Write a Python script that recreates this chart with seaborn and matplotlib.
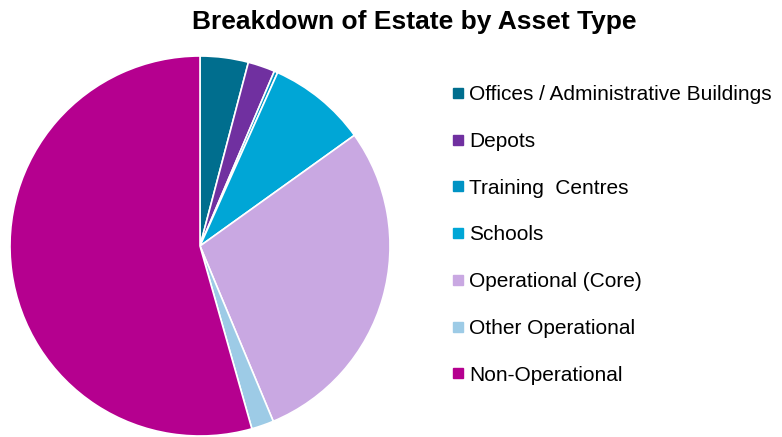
import matplotlib
matplotlib.use("Agg")
import matplotlib.pyplot as plt
from matplotlib.lines import Line2D
import seaborn as sns

# data (percent of estate)
categories = ['Offices / Administrative Buildings', 'Depots', 'Training  Centres', 'Schools',
              'Operational (Core)', 'Other Operational', 'Non-Operational']
shares = [4.1, 2.3, 0.3, 8.4, 28.6, 1.9, 54.4]
colours = ['#006E8E', '#7030A0', '#0093C4', '#00A6D6', '#C9A8E2', '#9DCBE6', '#B5008F']

sns.set_theme(style='white')
plt.rcParams['font.family'] = ['Liberation Sans', 'DejaVu Sans']
pal = sns.color_palette(colours)

fig = plt.figure(figsize=(7.82, 4.37), dpi=100)
ax = fig.add_axes([10 / 782, 1 / 437, 380 / 782, 380 / 437])
ax.pie(shares, colors=pal, startangle=90, counterclock=False, radius=1,
       wedgeprops=dict(edgecolor='white', linewidth=1.2))
ax.set_xlim(-1, 1)
ax.set_ylim(-1, 1)
ax.set_aspect('equal')
ax.axis('off')

fig.text(414 / 782, 1 - 22 / 437, 'Breakdown of Estate by Asset Type', ha='center', va='center',
         fontsize=19, fontweight='bold', color='black')

handles = [Line2D([], [], marker='s', linestyle='', markersize=6.5, color=c) for c in pal]
fig.legend(handles, categories, loc='upper left', bbox_to_anchor=(444 / 782, 1 - 77 / 437),
           frameon=False, fontsize=15, labelspacing=1.33, handlelength=0.5,
           handletextpad=0.3, borderaxespad=0, labelcolor='black')

fig.savefig('out.png', dpi=100)
